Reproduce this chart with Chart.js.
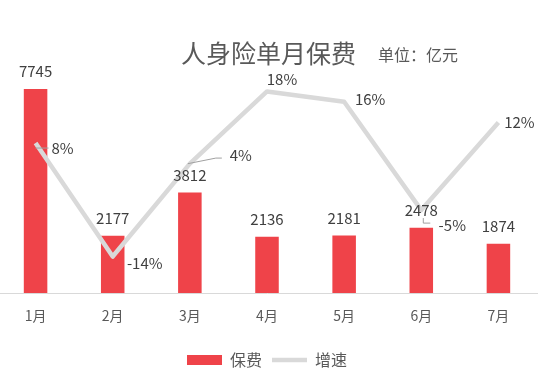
<!DOCTYPE html>
<html>
<head>
<meta charset="utf-8">
<script src="https://cdn.jsdelivr.net/npm/chart.js@4.4.1/dist/chart.umd.min.js"></script>
<style>
  html, body { margin:0; padding:0; background:#fff; overflow:hidden; }
  /* canvas nudged 3px left so the first category lines up with the reference */
  #wrap { position:absolute; left:-3px; top:0; width:556px; height:378px; }
</style>
</head>
<body>
<div id="wrap"><canvas id="chart"></canvas></div>
<script>
// ── Data ──────────────────────────────────────────────────────
const months  = ['1月','2月','3月','4月','5月','6月','7月'];
const premium = [7745, 2177, 3812, 2136, 2181, 2478, 1874];   // 保费, 亿元
const growth  = [8, -14, 4, 18, 16, -5, 12];                  // 增速, %

// ── Style ─────────────────────────────────────────────────────
const C = {
  bar:'#ef4349', line:'#d9d9d9', text:'#404040', soft:'#595959',
  axis:'#d9d9d9', leader:'#a0a0a0',
};
const FONT = '"Noto Sans CJK SC", "Noto Sans", sans-serif';

// growth label offsets from their point [dx, dy], and which ones get a leader line
const gOff    = [[27,5],[32,6.5],[51,-8.6],[15,-12.5],[26,-2],[31,15],[21,0]];
const leaders = { 0:'h', 2:'up', 5:'down' };

// ── Plugins ───────────────────────────────────────────────────
const titlePlugin = {
  id:'titleText',
  afterDraw(chart) {
    const ctx = chart.ctx;
    ctx.save();
    ctx.fillStyle = C.soft;
    ctx.textAlign = 'left'; ctx.textBaseline = 'middle';
    ctx.font = `25px ${FONT}`;
    ctx.fillText('人身险单月保费', 184, 53);
    ctx.font = `16px ${FONT}`;
    ctx.fillText('单位：亿元', 381, 55);
    ctx.restore();
  }
};

const labelPlugin = {
  id:'valueLabels',
  afterDatasetsDraw(chart) {
    const ctx = chart.ctx;
    ctx.save();
    ctx.font = `15px ${FONT}`;
    ctx.fillStyle = C.text;
    ctx.textAlign = 'center'; ctx.textBaseline = 'middle';

    chart.getDatasetMeta(0).data.forEach((bar, i) => {
      ctx.fillText(String(premium[i]), bar.x, bar.y - 17.5);
    });

    const pts = chart.getDatasetMeta(1).data;
    ctx.strokeStyle = C.leader; ctx.lineWidth = 1;
    Object.entries(leaders).forEach(([k, kind]) => {
      const p = pts[k]; const [dx, dy] = gOff[k];
      ctx.beginPath();
      if (kind === 'h') {
        ctx.moveTo(p.x, p.y + dy); ctx.lineTo(p.x + dx - 14, p.y + dy);
      } else if (kind === 'up') {
        ctx.moveTo(p.x - 2, p.y); ctx.lineTo(p.x + dx - 25, p.y + dy + 3); ctx.lineTo(p.x + dx - 19, p.y + dy + 3);
      } else {
        ctx.moveTo(p.x + 2, p.y + 8); ctx.lineTo(p.x + 2, p.y + 13); ctx.lineTo(p.x + 9, p.y + 13);
      }
      ctx.stroke();
    });

    pts.forEach((p, i) => {
      const [dx, dy] = gOff[i];
      ctx.fillText(growth[i] + '%', p.x + dx, p.y + dy);
    });
    ctx.restore();
  }
};

// ── Chart ─────────────────────────────────────────────────────
new Chart(document.getElementById('chart').getContext('2d'), {
  type:'bar',
  data:{
    labels:months,
    datasets:[
      { label:'保费', data:premium, backgroundColor:C.bar, borderWidth:0,
        barPercentage:0.305, categoryPercentage:1, order:1, yAxisID:'y', pointStyle:'rect' },
      { type:'line', label:'增速', data:growth, borderColor:C.line, backgroundColor:C.line,
        borderWidth:4.5, borderJoinStyle:'round', tension:0, fill:false,
        pointRadius:0, pointHoverRadius:0, pointStyle:'line', order:0, yAxisID:'y2' },
    ]
  },
  options:{
    responsive:true, maintainAspectRatio:false, animation:false,
    layout:{ padding:{ top:60, right:16, left:0, bottom:0 } },
    plugins:{
      tooltip:{ enabled:false },
      legend:{
        position:'bottom',
        labels:{
          usePointStyle:true, pointStyleWidth:35, boxWidth:35, boxHeight:10, padding:10,
          color:C.soft, font:{ family:FONT, size:16 },
          sort:(a, b) => a.datasetIndex - b.datasetIndex,
        }
      },
    },
    scales:{
      x:{
        offset:true,
        grid:{ display:false, drawTicks:false },
        border:{ display:true, color:C.axis, width:1 },
        ticks:{ color:C.soft, font:{ family:FONT, size:14 }, padding:14 },
        afterFit(s) { s.height = 49; },
      },
      y: { display:false, min:0, max:8846 },
      y2:{ display:false, min:-21.07, max:24.10, position:'right' },
    }
  },
  plugins:[labelPlugin, titlePlugin],
});
</script>
</body>
</html>
